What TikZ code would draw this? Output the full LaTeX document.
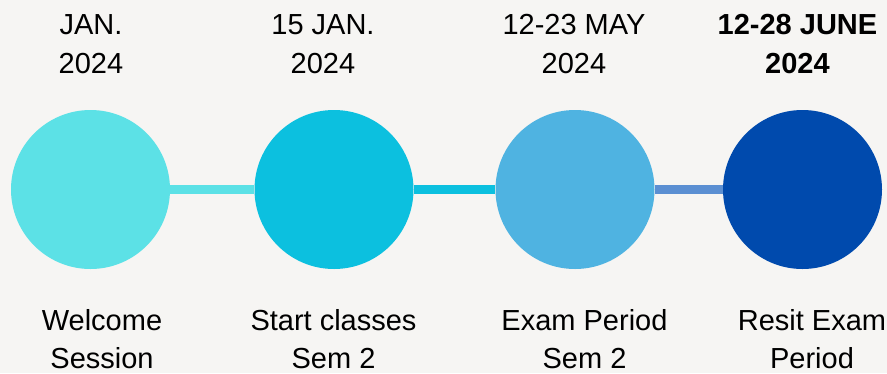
\documentclass[tikz,border=0pt]{standalone}
\usepackage{fontspec}
\setmainfont{Liberation Sans}
\usepackage{tikz}
\definecolor{paper}{HTML}{F6F5F3}
\definecolor{aqua}{HTML}{5CE1E6}
\definecolor{teal}{HTML}{0CC0DF}
\definecolor{sky}{HTML}{4FB3E1}
\definecolor{royal}{HTML}{004AAD}
\definecolor{steel}{HTML}{5B8FD2}
\tikzstyle{stage}=[circle, minimum size=159pt, inner sep=0pt]
\tikzstyle{date}=[align=center, inner sep=0pt, anchor=base, font=\fontsize{29}{39}\selectfont]
\tikzstyle{event}=[align=center, inner sep=0pt, anchor=base, font=\fontsize{29}{38}\selectfont]
\tikzstyle{bar}=[line width=9.5pt]

\begin{document}
\begin{tikzpicture}[x=1pt, y=-1pt]
	\fill[paper] (0, 0) rectangle (887, 373);
	\useasboundingbox (0, 0) rectangle (887, 373);
	\begin{scope}
		\node (welcome) at (90.5, 189.5)[stage, fill=aqua] {};
		\node (start) at (334, 189.5)[stage, fill=teal] {};
		\node (exam) at (575, 189.5)[stage, fill=sky] {};
		\node (resit) at (802.5, 189.5)[stage, fill=royal] {};
	\end{scope}
	\begin{scope}
		\path [bar, draw=aqua] (welcome) edge (start);
		\path [bar, draw=teal] (start) edge (exam);
		\path [bar, draw=steel] (exam) edge (resit);
	\end{scope}
	\begin{scope}
		\node (d1) at (91, 73)[date] {JAN.\\2024};
		\node (d2) at (323, 73)[date] {15 JAN.\\2024};
		\node (d3) at (574, 73)[date] {12-23 MAY\\2024};
		\node (d4) at (797.5, 73)[date, font=\fontsize{29}{39}\selectfont\bfseries] {12-28 JUNE\\2024};
	\end{scope}
	\begin{scope}
		\node (e1) at (102, 368)[event] {Welcome\\Session};
		\node (e2) at (333.5, 368)[event] {Start classes\\Sem 2};
		\node (e3) at (584.5, 368)[event] {Exam Period\\Sem 2};
		\node (e4) at (812, 368)[event] {Resit Exam\\Period};
	\end{scope}
\end{tikzpicture}
\end{document}
